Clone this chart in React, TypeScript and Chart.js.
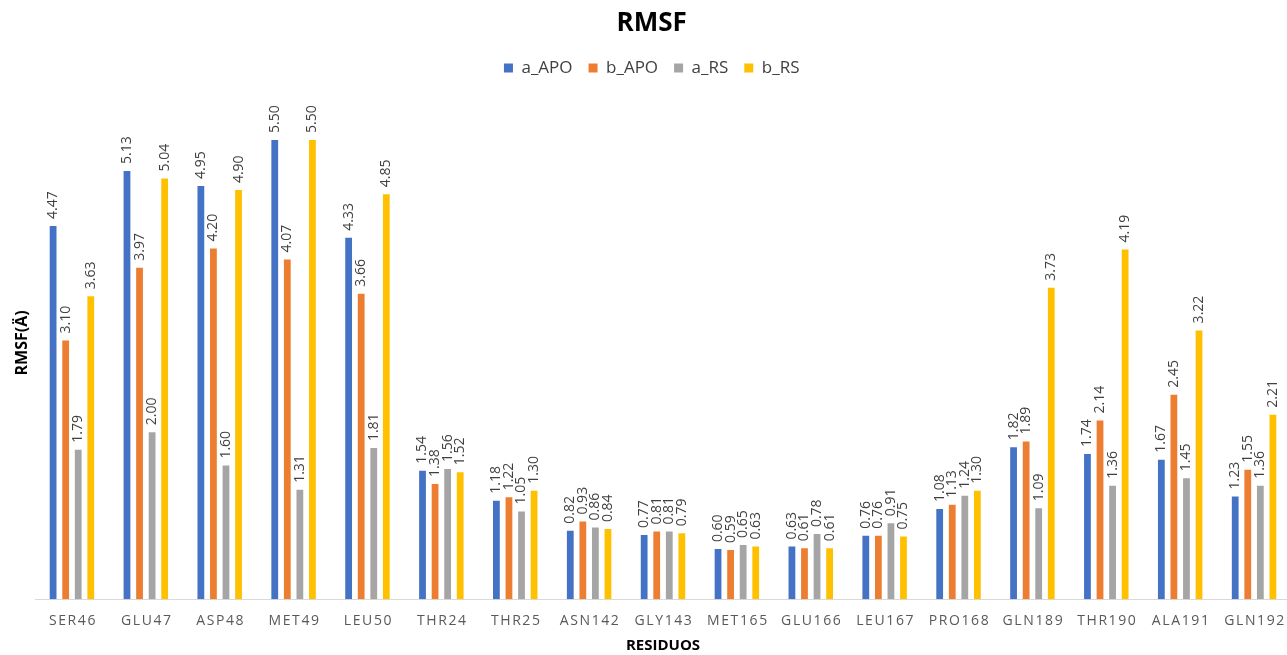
import React, { useEffect, useRef } from "react";
import { Chart, registerables } from "chart.js";

Chart.register(...registerables);

const categories = ["SER46", "GLU47", "ASP48", "MET49", "LEU50", "THR24", "THR25", "ASN142", "GLY143", "MET165", "GLU166", "LEU167", "PRO168", "GLN189", "THR190", "ALA191", "GLN192"];
const aAPO = [4.47, 5.13, 4.95, 5.50, 4.33, 1.54, 1.18, 0.82, 0.77, 0.60, 0.63, 0.76, 1.08, 1.82, 1.74, 1.67, 1.23];
const bAPO = [3.10, 3.97, 4.20, 4.07, 3.66, 1.38, 1.22, 0.93, 0.81, 0.59, 0.61, 0.76, 1.13, 1.89, 2.14, 2.45, 1.55];
const aRS = [1.79, 2.00, 1.60, 1.31, 1.81, 1.56, 1.05, 0.86, 0.81, 0.65, 0.78, 0.91, 1.24, 1.09, 1.36, 1.45, 1.36];
const bRS = [3.63, 5.04, 4.90, 5.50, 4.85, 1.52, 1.30, 0.84, 0.79, 0.63, 0.61, 0.75, 1.30, 3.73, 4.19, 3.22, 2.21];
const seriesNames = ["a_APO", "b_APO", "a_RS", "b_RS"];
const seriesColors = ["#4472C4", "#ED7D31", "#A5A5A5", "#FFC000"];

const FONT = "'Open Sans', 'Liberation Sans', sans-serif";

const labelPlugin = {
  id: "barLabels",
  afterDatasetsDraw(chart: any) {
    const ctx = chart.ctx;
    ctx.save();
    ctx.font = `14px ${FONT}`;
    ctx.fillStyle = "#404040";
    ctx.textAlign = "left";
    ctx.textBaseline = "middle";
    chart.data.datasets.forEach((ds: any, di: number) => {
      const meta = chart.getDatasetMeta(di);
      meta.data.forEach((el: any, i: number) => {
        const v = ds.data[i];
        ctx.save();
        ctx.translate(el.x, el.y - 7);
        ctx.rotate(-Math.PI / 2);
        ctx.fillText(v.toFixed(2), 0, 0);
        ctx.restore();
      });
    });
    ctx.restore();
  },
  afterDraw(chart: any) {
    const ctx = chart.ctx;
    const xs = chart.scales.x;
    ctx.save();
    ctx.font = `14px ${FONT}`;
    ctx.fillStyle = "#595959";
    ctx.textAlign = "center";
    ctx.textBaseline = "middle";
    try { (ctx as any).letterSpacing = "1.6px"; } catch (e) {}
    chart.data.labels.forEach((lab: string, i: number) => {
      ctx.fillText(lab, xs.getPixelForTick(i) + 1, xs.top + 22);
    });
    ctx.restore();
  },
};

export default function App() {
  const ref = useRef<HTMLCanvasElement>(null);
  useEffect(() => {
    document.body.style.margin = "0";
    const data = [aAPO, bAPO, aRS, bRS];
    const chart = new Chart(ref.current!, {
      type: "bar",
      data: {
        labels: categories,
        datasets: data.map((d, i) => ({
          label: seriesNames[i],
          data: d,
          backgroundColor: seriesColors[i],
          categoryPercentage: 0.68,
          barPercentage: 0.54,
        })),
      },
      options: {
        animation: false,
        responsive: true,
        maintainAspectRatio: false,
        layout: { padding: { left: 12.4, right: 5, top: 8.4, bottom: 0 } },
        plugins: {
          title: {
            display: true,
            text: "RMSF",
            color: "#000",
            font: { family: FONT, size: 26, weight: "bold" },
            padding: { top: 0, bottom: 4 },
          },
          legend: {
            display: true,
            position: "top",
            labels: {
              color: "#404040",
              font: { family: FONT, size: 17 },
              boxWidth: 9,
              boxHeight: 9,
              padding: 16,
            },
          },
          tooltip: { enabled: false },
        },
        scales: {
          x: {
            grid: { display: false, drawTicks: false },
            border: { display: true, color: "#d9d9d9", width: 1 },
            ticks: { color: "rgba(0,0,0,0)", font: { family: FONT, size: 14 }, maxRotation: 0, autoSkip: false, padding: 7 },
            title: {
              display: true,
              text: "RESIDUOS",
              color: "#000",
              font: { family: FONT, size: 15, weight: "bold" },
              padding: { top: 7, bottom: 0 },
            },
          },
          y: {
            min: 0,
            max: 6.14,
            grid: { display: false, drawTicks: false },
            border: { display: false },
            ticks: { display: false },
            title: {
              display: true,
              text: "RMSF(Ä)",
              color: "#000",
              font: { family: FONT, size: 16, weight: "bold" },
              padding: { top: 0, bottom: 3.4 },
            },
          },
        },
      },
      plugins: [labelPlugin],
    });
    return () => chart.destroy();
  }, []);
  return (
    <div style={{ width: 1287, height: 655, overflow: "hidden", position: "relative" }}>
      <div style={{ width: 1296, height: 655, position: "relative" }}>
        <canvas ref={ref} />
      </div>
    </div>
  );
}
